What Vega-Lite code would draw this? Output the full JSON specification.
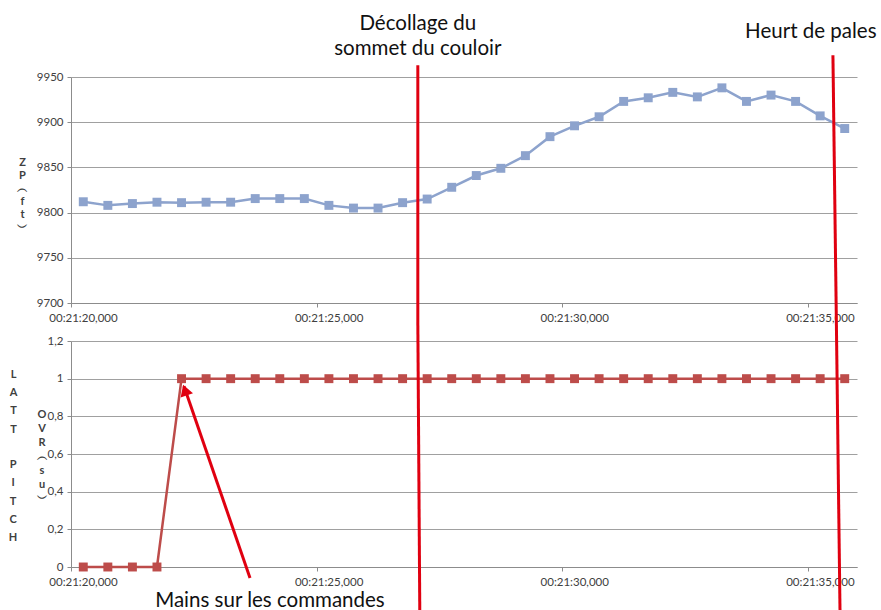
{
  "$schema": "https://vega.github.io/schema/vega-lite/v6.json",
  "autosize": {"type": "none"},
  "padding": {"left": 71, "top": 77, "right": 810, "bottom": 533},
  "background": "white",
  "bounds": "flush",
  "spacing": 38,
  "config": {
    "view": {"stroke": null},
    "axis": {
      "labelFont": "Lato", "labelFontSize": 11.5, "labelColor": "#404040",
      "domainColor": "#8c8c8c", "tickColor": "#8c8c8c", "gridColor": "#a0a0a0",
      "titleFont": "Lato", "titleFontWeight": "bold", "titleFontSize": 11, "titleColor": "#404040",
      "labelFlush": false, "labelOverlap": false
    }
  },
  "datasets": {
    "series": [
      {"t": 20.25, "zp": 9812, "latt": 0},
      {"t": 20.75, "zp": 9808, "latt": 0},
      {"t": 21.25, "zp": 9810, "latt": 0},
      {"t": 21.75, "zp": 9811.5, "latt": 0},
      {"t": 22.25, "zp": 9811, "latt": 1},
      {"t": 22.75, "zp": 9811.5, "latt": 1},
      {"t": 23.25, "zp": 9811.5, "latt": 1},
      {"t": 23.75, "zp": 9815.5, "latt": 1},
      {"t": 24.25, "zp": 9815.5, "latt": 1},
      {"t": 24.75, "zp": 9815.5, "latt": 1},
      {"t": 25.25, "zp": 9808, "latt": 1},
      {"t": 25.75, "zp": 9805, "latt": 1},
      {"t": 26.25, "zp": 9805, "latt": 1},
      {"t": 26.75, "zp": 9811, "latt": 1},
      {"t": 27.25, "zp": 9815, "latt": 1},
      {"t": 27.75, "zp": 9828, "latt": 1},
      {"t": 28.25, "zp": 9841, "latt": 1},
      {"t": 28.75, "zp": 9849, "latt": 1},
      {"t": 29.25, "zp": 9863, "latt": 1},
      {"t": 29.75, "zp": 9884, "latt": 1},
      {"t": 30.25, "zp": 9896, "latt": 1},
      {"t": 30.75, "zp": 9906, "latt": 1},
      {"t": 31.25, "zp": 9923, "latt": 1},
      {"t": 31.75, "zp": 9927, "latt": 1},
      {"t": 32.25, "zp": 9933, "latt": 1},
      {"t": 32.75, "zp": 9928, "latt": 1},
      {"t": 33.25, "zp": 9938, "latt": 1},
      {"t": 33.75, "zp": 9923, "latt": 1},
      {"t": 34.25, "zp": 9930, "latt": 1},
      {"t": 34.75, "zp": 9923, "latt": 1},
      {"t": 35.25, "zp": 9907, "latt": 1},
      {"t": 35.75, "zp": 9893, "latt": 1}
    ],
    "topMarkers": [
      {"event": "Décollage", "t": 27.06, "t2": 27.06, "y": 9963, "y2": 9679},
      {"event": "Heurt", "t": 35.51, "t2": 35.58, "y": 9974, "y2": 9679}
    ],
    "bottomMarkers": [
      {"event": "Décollage", "t": 27.06, "t2": 27.1, "y": 1.301, "y2": -0.23},
      {"event": "Heurt", "t": 35.58, "t2": 35.654, "y": 1.301, "y2": -0.23},
      {"event": "Mains", "t": 23.644, "t2": 22.3, "y": -0.058, "y2": 0.96}
    ],
    "topNotes": [
      {"text": "Décollage du", "t": 27.06, "v": 10009},
      {"text": "sommet du couloir", "t": 27.06, "v": 9981},
      {"text": "Heurt de pales", "t": 35.06, "v": 10000}
    ],
    "bottomNotes": [
      {"text": "Mains sur les commandes", "t": 24.05, "v": -0.178}
    ],
    "arrowHead": [
      {"t": 22.32, "v": 0.94}
    ],
    "secondTitle": [
      {"text": "O\nV\nR\n︵\ns\nu\n︶", "t": 19.41, "v": 0.84}
    ],
    "pitchTitle": [
      {"text": "P\nI\nT\nC\nH", "t": 18.82, "v": 0.575}
    ]
  },
  "vconcat": [
    {
      "width": 786,
      "height": 226,
      "layer": [
        {
          "data": {"name": "series"},
          "mark": {"type": "line", "color": "#8DA3CD", "strokeWidth": 2.5,
                   "point": {"shape": "square", "size": 80, "filled": true, "color": "#8DA3CD", "opacity": 1}},
          "encoding": {
            "x": {"field": "t", "type": "quantitative",
                  "scale": {"domain": [20, 36], "nice": false, "zero": false},
                  "axis": {"values": [20, 25, 30, 35], "labelExpr": "'00:21:' + datum.value + ',000'",
                           "grid": false, "tickSize": 4, "labelPadding": 5, "labelOffset": 12, "title": null, "tickCount": 10}},
            "y": {"field": "zp", "type": "quantitative",
                  "scale": {"domain": [9700, 9950], "nice": false, "zero": false},
                  "axis": {"values": [9700, 9750, 9800, 9850, 9900, 9950], "format": "d", "grid": true,
                           "tickSize": 4, "labelPadding": 4, "tickCount": 10,
                           "title": ["Z", "P", "︵", "f", "t", "︶"], "titleAngle": 0, "titleX": -49, "titleY": 79,
                           "titleAlign": "center", "titleBaseline": "top", "titleLineHeight": 13}}
          }
        },
        {
          "data": {"name": "topMarkers"},
          "mark": {"type": "rule", "color": "#E00010", "strokeWidth": 3},
          "encoding": {
            "x": {"field": "t", "type": "quantitative", "scale": {"domain": [20, 36], "nice": false, "zero": false}},
            "x2": {"field": "t2"},
            "y": {"field": "y", "type": "quantitative", "scale": {"domain": [9700, 9950], "nice": false, "zero": false}},
            "y2": {"field": "y2"}
          }
        },
        {
          "data": {"name": "topNotes"},
          "mark": {"type": "text", "font": "Lato", "fontSize": 20.5, "baseline": "middle", "align": "center", "color": "#111111"},
          "encoding": {
            "x": {"field": "t", "type": "quantitative", "scale": {"domain": [20, 36], "nice": false, "zero": false}},
            "y": {"field": "v", "type": "quantitative", "scale": {"domain": [9700, 9950], "nice": false, "zero": false}},
            "text": {"field": "text"}
          }
        }
      ]
    },
    {
      "width": 786,
      "height": 226,
      "layer": [
        {
          "data": {"name": "series"},
          "mark": {"type": "line", "color": "#BD4C4A", "strokeWidth": 2.5,
                   "point": {"shape": "square", "size": 80, "filled": true, "color": "#BD4C4A", "opacity": 1}},
          "encoding": {
            "x": {"field": "t", "type": "quantitative",
                  "scale": {"domain": [20, 36], "nice": false, "zero": false},
                  "axis": {"values": [20, 25, 30, 35], "labelExpr": "'00:21:' + datum.value + ',000'",
                           "grid": false, "tickSize": 4, "labelPadding": 5, "labelOffset": 12, "title": null, "tickCount": 10}},
            "y": {"field": "latt", "type": "quantitative",
                  "scale": {"domain": [0, 1.2], "nice": false, "zero": false},
                  "axis": {"values": [0, 0.2, 0.4, 0.6, 0.8, 1, 1.2], "labelExpr": "replace(toString(datum.value), '.', ',')",
                           "grid": true, "tickSize": 4, "labelPadding": 4, "tickCount": 12,
                           "title": ["L", "A", "T", "T"], "titleAngle": 0, "titleX": -58, "titleY": 27,
                           "titleAlign": "center", "titleBaseline": "top", "titleLineHeight": 18.4}}
          }
        },
        {
          "data": {"name": "bottomMarkers"},
          "mark": {"type": "rule", "color": "#E00010", "strokeWidth": 3},
          "encoding": {
            "x": {"field": "t", "type": "quantitative", "scale": {"domain": [20, 36], "nice": false, "zero": false}},
            "x2": {"field": "t2"},
            "y": {"field": "y", "type": "quantitative", "scale": {"domain": [0, 1.2], "nice": false, "zero": false}},
            "y2": {"field": "y2"}
          }
        },
        {
          "data": {"name": "arrowHead"},
          "mark": {"type": "point", "shape": "triangle-up", "size": 170, "filled": true, "color": "#E00010", "opacity": 1, "angle": 341},
          "encoding": {
            "x": {"field": "t", "type": "quantitative", "scale": {"domain": [20, 36], "nice": false, "zero": false}},
            "y": {"field": "v", "type": "quantitative", "scale": {"domain": [0, 1.2], "nice": false, "zero": false}}
          }
        },
        {
          "data": {"name": "bottomNotes"},
          "mark": {"type": "text", "font": "Lato", "fontSize": 20.5, "baseline": "middle", "align": "center", "color": "#111111"},
          "encoding": {
            "x": {"field": "t", "type": "quantitative", "scale": {"domain": [20, 36], "nice": false, "zero": false}},
            "y": {"field": "v", "type": "quantitative", "scale": {"domain": [0, 1.2], "nice": false, "zero": false}},
            "text": {"field": "text"}
          }
        },
        {
          "data": {"name": "secondTitle"},
          "mark": {"type": "text", "font": "Lato", "fontSize": 11, "fontWeight": "bold", "baseline": "top", "align": "center",
                   "color": "#404040", "lineBreak": "\n", "lineHeight": 14},
          "encoding": {
            "x": {"field": "t", "type": "quantitative", "scale": {"domain": [20, 36], "nice": false, "zero": false}},
            "y": {"field": "v", "type": "quantitative", "scale": {"domain": [0, 1.2], "nice": false, "zero": false}},
            "text": {"field": "text"}
          }
        },
        {
          "data": {"name": "pitchTitle"},
          "mark": {"type": "text", "font": "Lato", "fontSize": 11, "fontWeight": "bold", "baseline": "top", "align": "center",
                   "color": "#404040", "lineBreak": "\n", "lineHeight": 18.4},
          "encoding": {
            "x": {"field": "t", "type": "quantitative", "scale": {"domain": [20, 36], "nice": false, "zero": false}},
            "y": {"field": "v", "type": "quantitative", "scale": {"domain": [0, 1.2], "nice": false, "zero": false}},
            "text": {"field": "text"}
          }
        }
      ]
    }
  ]
}
